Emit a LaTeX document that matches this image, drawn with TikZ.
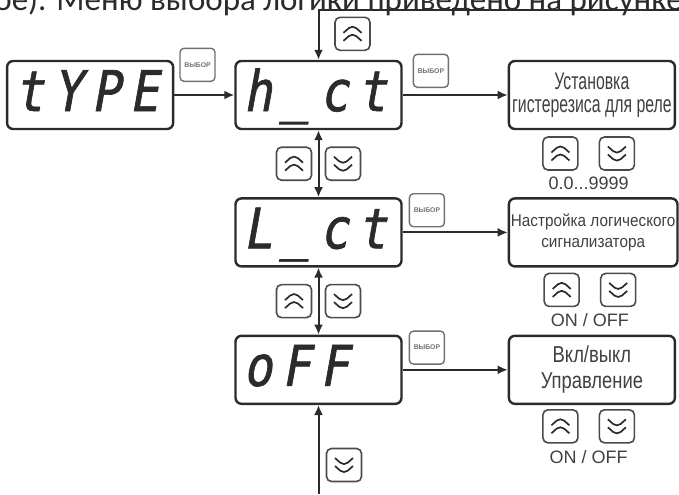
\documentclass[tikz,border=0pt]{standalone}
\usepackage{fontspec}
\setmainfont{Liberation Sans}
\newfontfamily\segfont[FakeSlant=0.18,FakeStretch=0.85,FakeBold=1.2,LetterSpace=17]{DejaVu Sans Mono}
\newfontfamily\narrowfont[FakeStretch=0.66]{Liberation Sans}
\newfontfamily\semifont[FakeStretch=0.9]{Liberation Sans}
\newfontfamily\wideinfo[FakeStretch=0.8]{Liberation Sans}
\newfontfamily\capfont{Carlito}
\usetikzlibrary{positioning,arrows.meta,calc}

\definecolor{ink}{HTML}{2B2B2B}
\definecolor{btngray}{HTML}{707070}

\begin{document}
\begin{tikzpicture}[x=0.5pt,y=-0.5pt,
  >={Latex[length=5pt,width=4.5pt]},
  disp/.style={draw=ink,line width=1.2pt,rounded corners=3pt,text width=75pt,inner xsep=4pt,
               minimum height=34pt,align=left,text height=21pt,text depth=5pt,
               font=\segfont\fontsize{28}{28}\selectfont,text=ink},
  info/.style={draw=ink,line width=1.2pt,rounded corners=3pt,minimum width=83pt,minimum height=34pt,
               align=center,inner sep=1pt,text=ink!90},
  selbtn/.style={draw=btngray,line width=0.7pt,rounded corners=2pt,minimum width=17.5pt,minimum height=16.5pt,
                 inner sep=0pt,font=\bfseries\fontsize{3.4}{4}\selectfont,text=btngray},
  keybtn/.style={draw=ink!85,line width=0.8pt,rounded corners=2.5pt,minimum width=17.5pt,minimum height=16.5pt,inner sep=0pt},
  upkey/.style={keybtn,path picture={
      \foreach \dy in {-3.5pt,0.5pt}
        \draw[ink,line width=0.85pt] ([shift={(-4.5pt,\dy)}]path picture bounding box.center) -- ++(4.5pt,4pt) -- ++(4.5pt,-4pt);}},
  downkey/.style={keybtn,path picture={
      \foreach \dy in {3.5pt,-0.5pt}
        \draw[ink,line width=0.85pt] ([shift={(-4.5pt,\dy)}]path picture bounding box.center) -- ++(4.5pt,-4pt) -- ++(4.5pt,4pt);}},
  rng/.style={font=\fontsize{9}{10}\selectfont,text=ink!90,inner sep=1pt,yshift=-2pt},
  flow/.style={->,draw=ink,line width=1pt},
]
\useasboundingbox (0,0) rectangle (679,494);

% cut-off line of the text above
\begin{scope}
  \clip (0,0) rectangle (679,494);
  \node[anchor=base west,inner sep=0pt,font=\capfont\fontsize{16.5}{18}\selectfont,text=ink] (capline) at (-6,10)
    {ое). Меню выбора логики приведено на рисунке};
\end{scope}

% ===== display column =====
\node[disp] (hct) at (318.5,95) {h\_ct};
\node[disp,left=30pt of hct] (type) {tYPE};
\node[disp,below=33.5pt of hct] (lct) {L\_ct};
\node[disp,below=33.5pt of lct] (off) {oFF};

% ===== parameter boxes =====
\node[info,right=52.5pt of hct,font=\narrowfont\fontsize{12}{11.5}\selectfont] (hyst) {Установка\\гистерезиса для реле};
\node[info,right=52.5pt of lct,font=\semifont\fontsize{8.5}{10.5}\selectfont] (logic) {Настройка логического\\сигнализатора};
\node[info,right=52.5pt of off,font=\wideinfo\fontsize{11.5}{13}\selectfont] (onoff) {Вкл/выкл\\Управление};

% select buttons
\node[selbtn,anchor=south west] (sel1) at ($(type.east)+(5,-13)$) {ВЫБОР};
\node[selbtn,anchor=south west] (sel2) at ($(hct.east)+(10,-7)$) {ВЫБОР};
\node[selbtn,anchor=south west] (sel3) at ($(lct.east)+(6,-5)$) {ВЫБОР};
\node[selbtn,anchor=south west] (sel4) at ($(off.east)+(6,-5)$) {ВЫБОР};

% connectors
\coordinate (topin) at (679,10);
\coordinate (botin) at (318.5,494);
\draw[flow] (type) -- (hct);
\draw[flow] (hct) -- (hyst);
\draw[flow] (lct) -- (logic);
\draw[flow] (off) -- (onoff);
\draw[flow,<->] (hct) -- (lct);
\draw[flow,<->] (lct) -- (off);
\draw[flow] (topin) -| (hct.north);
\draw[flow] (botin) -- (off.south);

% arrow keys along the menu
\node[upkey] (u0) at ($(hct.north)+(34,-26)$) {};
\node[upkey] (u1) at ($(hct.south)!.5!(lct.north)+(-24.5,0)$) {};
\node[downkey] (d1) at ($(hct.south)!.5!(lct.north)+(24.5,0)$) {};
\node[upkey] (u2) at ($(lct.south)!.5!(off.north)+(-24.5,0)$) {};
\node[downkey] (d2) at ($(lct.south)!.5!(off.north)+(24.5,0)$) {};
\node[downkey] (d0) at ($(off.south)+(25.5,60)$) {};

% arrow keys under the parameters
\node[upkey,below=3pt of hyst,xshift=-15.75pt] (hu) {};
\node[downkey,below=3pt of hyst,xshift=12.5pt] (hd) {};
\node[rng,anchor=north] (hr) at ($(hu.south)!.5!(hd.south)$) {0.0...9999};
\node[upkey,below=2.5pt of logic,xshift=-15.75pt] (lu) {};
\node[downkey,below=2.5pt of logic,xshift=12.5pt] (ld) {};
\node[rng,anchor=north] (lr) at ($(lu.south)!.5!(ld.south)$) {ON / OFF};
\node[upkey,below=2pt of onoff,xshift=-15.75pt] (ou) {};
\node[downkey,below=2pt of onoff,xshift=12.5pt] (od) {};
\node[rng,anchor=north] (orr) at ($(ou.south)!.5!(od.south)$) {ON / OFF};
\end{tikzpicture}
\end{document}
